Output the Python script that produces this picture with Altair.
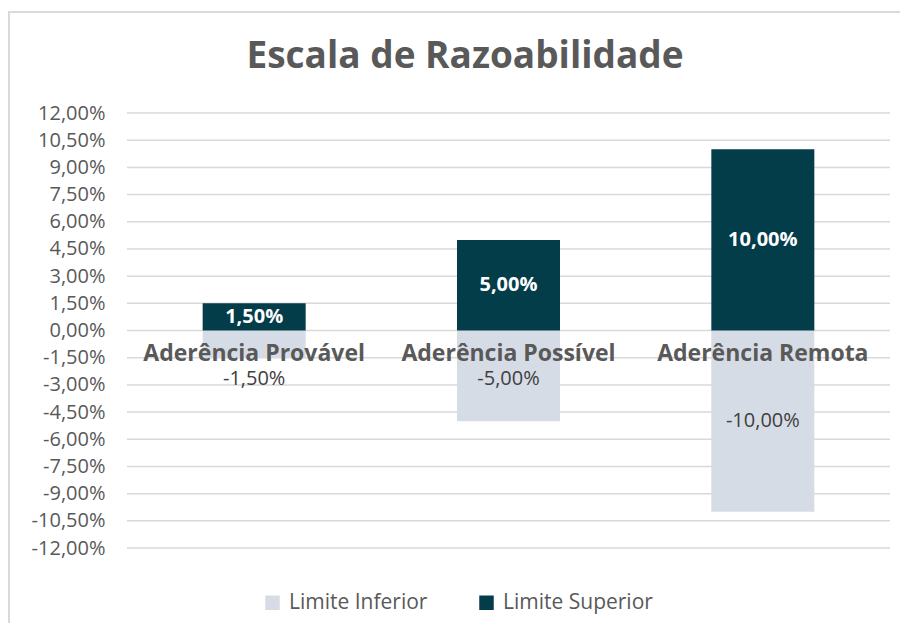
import altair as alt
import pandas as pd

# ---- data ----
categories = ["Aderência Provável", "Aderência Possível", "Aderência Remota"]
limite_inferior = [-0.015, -0.05, -0.10]
limite_superior = [0.015, 0.05, 0.10]
series_names = ["Limite Inferior", "Limite Superior"]
series_colors = ["#D6DCE5", "#033D4A"]
y_ticks = [-0.12, -0.105, -0.09, -0.075, -0.06, -0.045, -0.03, -0.015, 0.0,
           0.015, 0.03, 0.045, 0.06, 0.075, 0.09, 0.105, 0.12]
title_text = "Escala de Razoabilidade"

rows = []
for c, lo, hi in zip(categories, limite_inferior, limite_superior):
    rows.append({"categoria": c, "serie": series_names[0], "valor": lo})
    rows.append({"categoria": c, "serie": series_names[1], "valor": hi})
df = pd.DataFrame(rows)
grid_df = pd.DataFrame({"tick": y_ticks})

FONT = "Open Sans"
GRAY = "#595959"
W, H = 763, 435
PAD_L, PAD_T, PAD_R, PAD_B = 119, 105, 10, 75
FMT = "replace(replace(format({v}, '.2%'), '.', ','), '\u2212', '-')"

x_scale = alt.Scale(domain=categories, paddingInner=0.595, paddingOuter=0.2975)
y_scale = alt.Scale(domain=[-0.12, 0.12], nice=False, zero=False)
y_axis = alt.Axis(title=None, values=y_ticks, domain=False, ticks=False, grid=False,
                  labelOverlap=False, labelFontSize=20, labelColor=GRAY,
                  labelFont=FONT, labelPadding=22,
                  labelExpr=FMT.format(v="datum.value"))

grid = alt.Chart(grid_df).mark_rule(color="#D9D9D9", strokeWidth=1.5).encode(
    y=alt.Y("tick:Q", scale=y_scale, axis=y_axis),
    x=alt.value(0), x2=alt.value(W),
)

base = alt.Chart(df)

bars = base.mark_bar().encode(
    x=alt.X("categoria:N", scale=x_scale, sort=categories,
            axis=alt.Axis(title=None, orient="bottom", offset=-217.5, domain=False,
                          ticks=False, labelAngle=0, labelFontSize=23,
                          labelFontWeight="bold", labelColor=GRAY, labelFont=FONT,
                          labelPadding=12, zindex=2, labelLimit=400)),
    y=alt.Y("valor:Q", scale=y_scale, stack=None, axis=y_axis),
    color=alt.Color("serie:N", scale=alt.Scale(domain=series_names, range=series_colors),
                    legend=alt.Legend(title=None, orient="none", direction="horizontal",
                                      legendX=135, legendY=479, symbolType="square",
                                      symbolSize=210, symbolStrokeWidth=0,
                                      labelFontSize=21, labelColor=GRAY, labelFont=FONT,
                                      labelOffset=6, columnPadding=48, symbolOpacity=1)),
)

label_base = base.transform_calculate(
    rotulo=FMT.format(v="datum.valor"),
    ypos="datum.valor > 0 ? datum.valor / 2 : min(datum.valor / 2, -0.027)",
)

labels_sup = label_base.transform_filter(alt.datum.serie == series_names[1]).mark_text(
    font=FONT, fontSize=20, fontWeight="bold", color="white", baseline="middle"
).encode(
    x=alt.X("categoria:N", scale=x_scale, sort=categories),
    y=alt.Y("ypos:Q", scale=y_scale, axis=y_axis),
    text="rotulo:N",
)

labels_inf = label_base.transform_filter(alt.datum.serie == series_names[0]).mark_text(
    font=FONT, fontSize=20, color="#404040", baseline="middle"
).encode(
    x=alt.X("categoria:N", scale=x_scale, sort=categories),
    y=alt.Y("ypos:Q", scale=y_scale, axis=y_axis),
    text="rotulo:N",
)

frame_df = pd.DataFrame({"k": [0]})
top_border = alt.Chart(frame_df).mark_rule(color="#D9D9D9", strokeWidth=2, clip=False).encode(
    x=alt.value(-PAD_L), x2=alt.value(W + PAD_R), y=alt.value(-PAD_T + 4)
)
left_border = alt.Chart(frame_df).mark_rule(color="#D9D9D9", strokeWidth=2, clip=False).encode(
    x=alt.value(-PAD_L + 1), y=alt.value(-PAD_T + 3), y2=alt.value(H + PAD_B)
)
title = alt.Chart(pd.DataFrame({"t": [title_text]})).mark_text(
    font=FONT, fontSize=37, fontWeight="bold", color=GRAY, baseline="alphabetic",
    align="center", clip=False
).encode(
    text="t:N", x=alt.value(338), y=alt.value(-45)
)

chart = alt.layer(grid, bars, labels_sup, labels_inf, top_border, left_border, title).properties(
    width=W, height=H,
    padding={"left": PAD_L, "top": PAD_T, "right": PAD_R, "bottom": PAD_B},
    autosize=alt.AutoSizeParams(type="none"),
    background="white",
).configure_view(stroke=None)

chart.save("out.html", embed_options={"renderer": "svg", "actions": False})
